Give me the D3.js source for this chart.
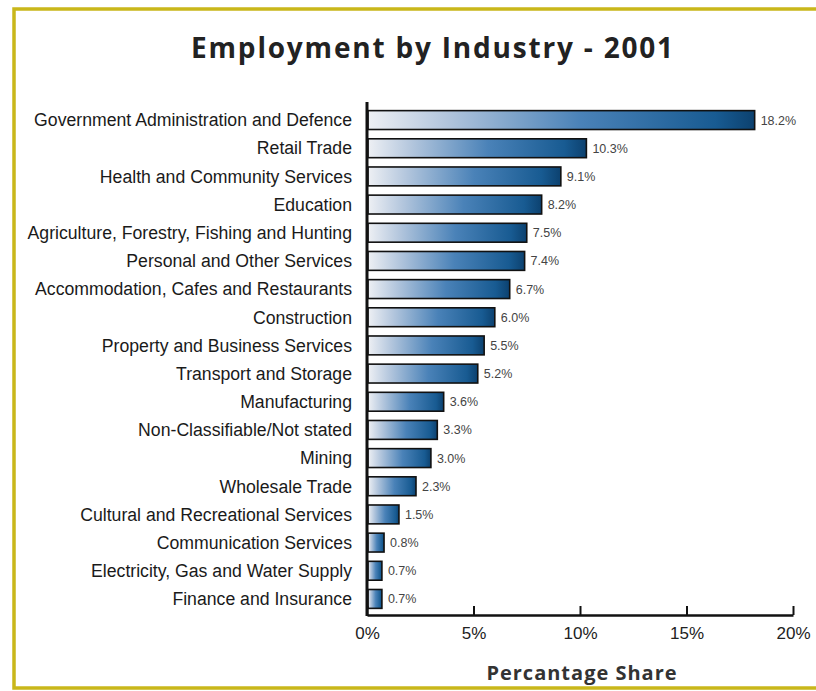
<!DOCTYPE html>
<html>
<head>
<meta charset="utf-8">
<script src="https://cdn.jsdelivr.net/npm/d3@7"></script>
<style>
  html, body { margin: 0; padding: 0; background: #fff; }
  svg { display: block; }
</style>
</head>
<body>
<svg id="chart" width="816" height="691"></svg>
<script>
const industries = [
  "Government Administration and Defence",
  "Retail Trade",
  "Health and Community Services",
  "Education",
  "Agriculture, Forestry, Fishing and Hunting",
  "Personal and Other Services",
  "Accommodation, Cafes and Restaurants",
  "Construction",
  "Property and Business Services",
  "Transport and Storage",
  "Manufacturing",
  "Non-Classifiable/Not stated",
  "Mining",
  "Wholesale Trade",
  "Cultural and Recreational Services",
  "Communication Services",
  "Electricity, Gas and Water Supply",
  "Finance and Insurance"
];
const shares = [18.2, 10.3, 9.1, 8.2, 7.5, 7.4, 6.7, 6.0, 5.5, 5.2, 3.6, 3.3, 3.0, 2.3, 1.5, 0.8, 0.7, 0.7];
const tickValues = [0, 5, 10, 15, 20];
const title = "Employment by Industry - 2001";
const axisTitle = "Percantage Share";

const svg = d3.select("#chart");
const margin = { left: 367, right: 23, top: 105, bottom: 76 };
const W = 816, H = 691;
const narrow = "'Liberation Sans Narrow', 'Arial Narrow', 'Liberation Sans', Arial, sans-serif";

// outer frame
svg.append("rect")
  .attr("x", 14).attr("y", 9).attr("width", 820).attr("height", 679)
  .attr("fill", "#fff").attr("stroke", "#c9b71a").attr("stroke-width", 3.5);

const defs = svg.append("defs");
const grad = defs.append("linearGradient").attr("id", "barGrad")
  .attr("x1", "0%").attr("x2", "100%").attr("y1", "0%").attr("y2", "0%");
grad.append("stop").attr("offset", "0%").attr("stop-color", "#eef0f4");
grad.append("stop").attr("offset", "20%").attr("stop-color", "#b3c6dd");
grad.append("stop").attr("offset", "55%").attr("stop-color", "#4a82b8");
grad.append("stop").attr("offset", "90%").attr("stop-color", "#185b92");
grad.append("stop").attr("offset", "100%").attr("stop-color", "#0c416f");

const x = d3.scaleLinear().domain([0, 20]).range([margin.left, W - margin.right]);
const y = d3.scaleBand().domain(industries).range([margin.top, H - margin.bottom - 1])
  .paddingInner(0.33).paddingOuter(0.2);

svg.append("text")
  .attr("x", 433).attr("y", 58)
  .attr("text-anchor", "middle")
  .attr("font-family", "'Open Sans', sans-serif")
  .attr("font-weight", 700)
  .attr("font-size", 28)
  .attr("letter-spacing", 1.8)
  .attr("fill", "#222")
  .text(title);

const data = industries.map((name, i) => ({ name, value: shares[i] }));

// bars
svg.append("g").selectAll("rect").data(data).join("rect")
  .attr("x", x(0) + 1)
  .attr("y", d => y(d.name))
  .attr("width", d => x(d.value) - x(0) - 1)
  .attr("height", y.bandwidth())
  .attr("fill", "url(#barGrad)")
  .attr("stroke", "#111")
  .attr("stroke-width", 1.6);

// category labels, slightly condensed
svg.append("g")
  .attr("transform", "translate(352,0) scale(0.93,1)")
  .selectAll("text").data(data).join("text")
  .attr("x", 0)
  .attr("y", d => y(d.name) + y.bandwidth() / 2)
  .attr("dy", "0.33em")
  .attr("text-anchor", "end")
  .attr("font-family", narrow)
  .attr("font-size", 19)
  .attr("fill", "#1a1a1a")
  .text(d => d.name);

// value labels
svg.append("g").selectAll("text").data(data).join("text")
  .attr("x", d => x(d.value) + 6)
  .attr("y", d => y(d.name) + y.bandwidth() / 2)
  .attr("dy", "0.36em")
  .attr("font-family", narrow)
  .attr("font-size", 12.5)
  .attr("fill", "#444")
  .text(d => d.value.toFixed(1) + "%");

// x axis
const axisY = H - margin.bottom;
const xAxis = d3.axisBottom(x).tickValues(tickValues)
  .tickFormat(d => d + "%").tickSizeInner(-9).tickSizeOuter(0).tickPadding(12);
const gx = svg.append("g").attr("transform", `translate(0,${axisY})`).call(xAxis);
gx.select(".domain").attr("stroke", "#111").attr("stroke-width", 2.6);
gx.selectAll(".tick line").attr("stroke", "#111").attr("stroke-width", 2);
gx.selectAll(".tick text")
  .attr("font-family", narrow)
  .attr("font-size", 17).attr("fill", "#222");

// y axis line
svg.append("line")
  .attr("x1", x(0)).attr("x2", x(0))
  .attr("y1", margin.top - 3).attr("y2", axisY + 1)
  .attr("stroke", "#111").attr("stroke-width", 3);

svg.append("text")
  .attr("x", 582).attr("y", 680)
  .attr("text-anchor", "middle")
  .attr("font-family", "'Open Sans', sans-serif")
  .attr("font-weight", 700)
  .attr("font-size", 20)
  .attr("letter-spacing", 1)
  .attr("fill", "#333")
  .text(axisTitle);
</script>
</body>
</html>
